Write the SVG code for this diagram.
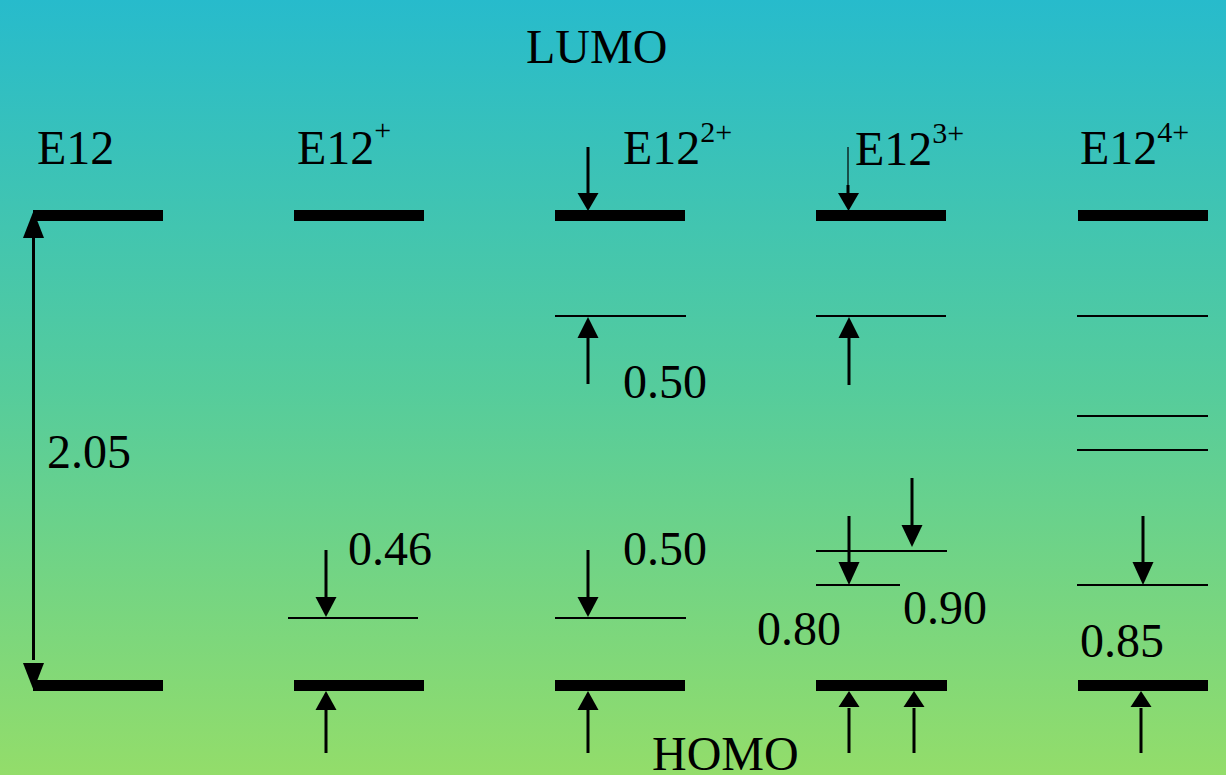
<svg xmlns="http://www.w3.org/2000/svg" width="1226" height="775" viewBox="0 0 1226 775">
<defs>
<linearGradient id="bg" x1="0" y1="0" x2="0" y2="1">
<stop offset="0" stop-color="#27bbcc"/>
<stop offset="0.5" stop-color="#55cc9c"/>
<stop offset="1" stop-color="#93dd6a"/>
</linearGradient>
<style>
.t{font-family:"Liberation Serif","Times New Roman",serif;font-size:48px;fill:#000}
.sup{font-size:30px}
.bar{fill:#000}
.thin{stroke:#000;stroke-width:2;fill:none}
.sh{stroke:#000;stroke-width:3;fill:none}
.hd{fill:#000}
</style>
</defs>
<rect width="1226" height="775" fill="url(#bg)"/>
<g id="titles">
<text class="t" x="526" y="63">LUMO</text>
<text class="t" x="652" y="770">HOMO</text>
</g>
<g id="E12">
<text class="t" x="37" y="164">E12</text>
<rect class="bar" x="33" y="210" width="130" height="11"/>
<rect class="bar" x="33" y="680" width="130" height="11"/>
<text class="t" x="47" y="468">2.05</text>
</g>
<g id="E12p">
<text class="t" x="297" y="164">E12<tspan class="sup" dy="-24">+</tspan></text>
<rect class="bar" x="294" y="210" width="130" height="11"/>
<line class="thin" x1="288" y1="618" x2="418" y2="618"/>
<rect class="bar" x="294" y="680" width="130" height="11"/>
<text class="t" x="348" y="565">0.46</text>
</g>
<g id="E12_2p">
<text class="t" x="623" y="164">E12<tspan class="sup" dy="-22">2+</tspan></text>
<rect class="bar" x="555" y="210" width="130" height="11"/>
<line class="thin" x1="555" y1="316" x2="686" y2="316"/>
<line class="thin" x1="555" y1="618" x2="686" y2="618"/>
<rect class="bar" x="555" y="680" width="130" height="11"/>
<text class="t" x="623" y="398">0.50</text>
<text class="t" x="623" y="565">0.50</text>
</g>
<g id="E12_3p">
<text class="t" x="855" y="165">E12<tspan class="sup" dy="-22">3+</tspan></text>
<rect class="bar" x="816" y="210" width="130" height="11"/>
<line class="thin" x1="816" y1="316" x2="946" y2="316"/>
<line class="thin" x1="816" y1="551" x2="947" y2="551"/>
<line class="thin" x1="816" y1="585" x2="900" y2="585"/>
<rect class="bar" x="816" y="680" width="131" height="11"/>
<text class="t" x="757" y="645">0.80</text>
<text class="t" x="903" y="624">0.90</text>
</g>
<g id="E12_4p">
<text class="t" x="1080" y="164">E12<tspan class="sup" dy="-22">4+</tspan></text>
<rect class="bar" x="1078" y="210" width="130" height="11"/>
<line class="thin" x1="1077" y1="316" x2="1208" y2="316"/>
<line class="thin" x1="1077" y1="416" x2="1208" y2="416"/>
<line class="thin" x1="1077" y1="450" x2="1208" y2="450"/>
<line class="thin" x1="1077" y1="585" x2="1208" y2="585"/>
<rect class="bar" x="1078" y="680" width="130" height="11"/>
<text class="t" x="1080" y="657">0.85</text>
</g>
<g id="connectors">
<!-- 2.05 double arrow -->
<line class="sh" x1="33.5" y1="236" x2="33.5" y2="660"/>
<polygon class="hd" points="33.5,211 23,238 44,238"/>
<polygon class="hd" points="33.5,690 23,663 44,663"/>
<!-- E12+ -->
<line class="sh" x1="326" y1="550" x2="326" y2="600"/>
<polygon class="hd" points="326,617 315.5,597 336.5,597"/>
<line class="sh" x1="326" y1="708" x2="326" y2="753"/>
<polygon class="hd" points="326,691 315.5,710 336.5,710"/>
<!-- E12 2+ -->
<line class="sh" x1="588" y1="147" x2="588" y2="195"/>
<polygon class="hd" points="588,211 577.5,193 598.5,193"/>
<line class="sh" x1="588" y1="336" x2="588" y2="384"/>
<polygon class="hd" points="588,317 577.5,338 598.5,338"/>
<line class="sh" x1="588" y1="550" x2="588" y2="600"/>
<polygon class="hd" points="588,617 577.5,597 598.5,597"/>
<line class="sh" x1="588" y1="708" x2="588" y2="753"/>
<polygon class="hd" points="588,691 577.5,710 598.5,710"/>
<!-- E12 3+ -->
<line x1="848" y1="147" x2="848" y2="186" stroke="#000" stroke-width="1.2"/>
<line class="sh" x1="848" y1="185" x2="848" y2="195"/>
<polygon class="hd" points="848.5,211 838,193 859,193"/>
<line class="sh" x1="849" y1="336" x2="849" y2="385"/>
<polygon class="hd" points="849,317 838.5,338 859.5,338"/>
<line class="sh" x1="849" y1="516" x2="849" y2="565"/>
<polygon class="hd" points="849,585 838.5,562 859.5,562"/>
<line class="sh" x1="912" y1="478" x2="912" y2="528"/>
<polygon class="hd" points="912,547 901.5,525 922.5,525"/>
<line class="sh" x1="849" y1="708" x2="849" y2="753"/>
<polygon class="hd" points="849,691 838.5,707 859.5,707"/>
<line class="sh" x1="914" y1="708" x2="914" y2="753"/>
<polygon class="hd" points="914,691 903.5,707 924.5,707"/>
<!-- E12 4+ -->
<line class="sh" x1="1143" y1="516" x2="1143" y2="565"/>
<polygon class="hd" points="1143,585 1132.5,562 1153.5,562"/>
<line class="sh" x1="1141" y1="708" x2="1141" y2="753"/>
<polygon class="hd" points="1141,691 1130.5,707 1151.5,707"/>
</g>
</svg>
